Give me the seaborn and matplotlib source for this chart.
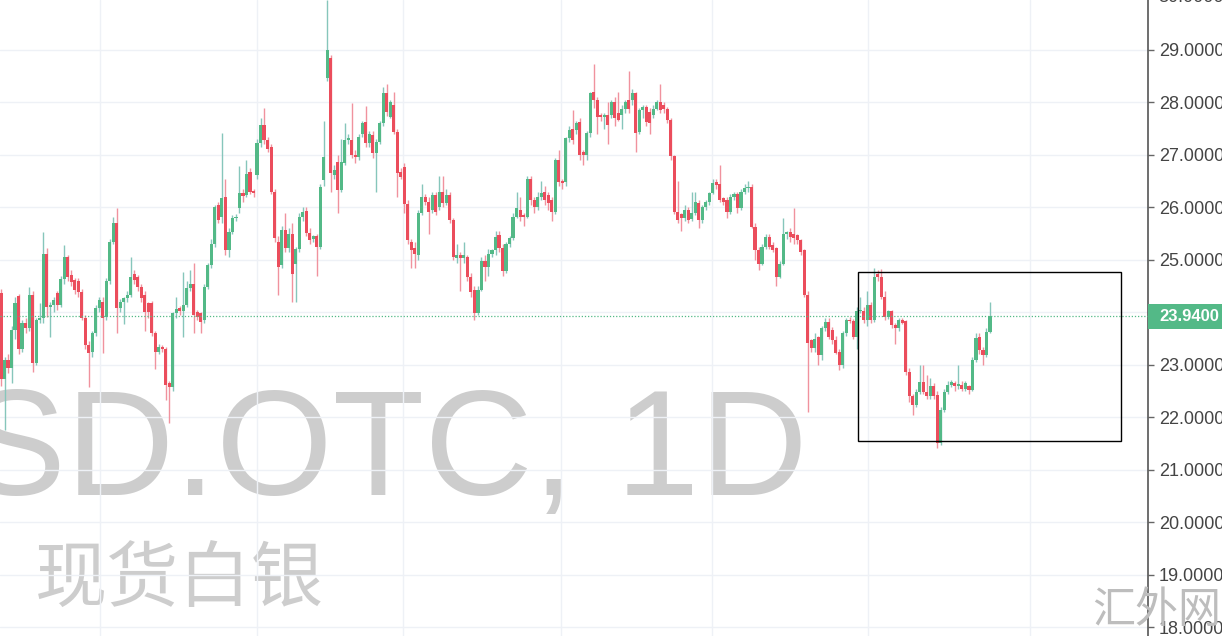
import matplotlib
matplotlib.use("Agg")
import matplotlib.pyplot as plt
import seaborn as sns
import numpy as np
import pandas as pd
from matplotlib.patches import Rectangle

# ---------------- data ----------------
opens = [
    # A
    24.36,22.74,23.09,22.95,23.66,24.31,23.31,23.79,23.70,24.33, 23.03,23.85,23.89,25.12,24.11,24.14,24.36,24.14,24.63,25.06,
    24.71,24.62,24.60,24.39,23.90,23.38,23.25,23.60,24.08,24.20, 23.92,24.60,25.35,25.71,24.08,24.20,24.27,24.33,24.74,24.68,
    24.49,24.33,24.17,24.17,23.60,23.25,23.35,23.31,22.65,
    # B
    22.58,23.98,24.08,24.02,24.14,24.46,24.55,24.00,23.98,23.85, 24.49,24.90,25.31,26.04,25.82,26.20,25.19,25.54,25.79,25.98,
    26.27,26.23,26.68,26.31,26.61,27.22,27.57,27.28,27.15,26.30, 25.35,24.90,25.57,25.22,25.50,24.93,25.20,25.82,25.94,25.51,
    25.40,25.45,25.25,26.52,28.46,
    # C
    28.84,26.62,26.87,26.33,26.84,27.28,27.28,27.00,26.96,27.40, 27.63,27.22,27.38,27.03,27.25,27.60,28.17,27.72,27.95,27.44,
    26.68,26.77,26.07,25.35,25.22,25.09,25.89,26.20,26.11, 25.95,26.24,26.00,26.30,26.08,26.24,25.76,25.03,25.09,25.03,
    25.06,24.68,24.43,23.98,24.43,24.97,24.87,25.12,25.18,
    # D
    25.47,25.22,24.78,25.31,25.41,25.82,25.95,25.86,25.82, 26.55,26.14,26.00,26.20,26.30,26.24,26.14,25.92,26.90,26.49,
    26.49,27.32,27.50,27.47,27.63,27.05,26.99,27.41,28.20,28.05, 27.76,27.73,27.76,27.76,28.01,27.79,27.76,27.88,28.05,28.05,
    28.17,27.44,27.85,27.91,27.82,27.76,27.88,28.01,
    # E
    27.95,27.88,27.66,26.97,25.92,25.88,25.80,25.95,25.78,25.90, 26.08,25.76,26.00,26.10,26.27,26.48,26.44,26.17,26.14,
    25.92,26.20,26.26,25.98,26.30,26.36,26.39,25.63,25.19,24.93, 25.25,25.44,25.28,25.22,24.68,24.93,25.50,25.53,25.50,25.47,
    25.38,25.18,24.33,23.47,23.32,23.53,23.19,23.70,23.82,
    # F
    23.67,23.48,23.25,23.00,23.60,23.86,23.83,23.54,24.02,24.03, 23.86,24.14,23.86,24.74,24.68,24.30,23.92,24.02,23.76,23.70,
    23.86,23.83,22.87,22.40,22.24,22.49,22.68,22.49,22.40,22.59, 22.43,21.51,22.14,22.49,22.62,22.65,22.59,22.62,22.55,22.59,
    22.52,23.09,23.54,23.28,23.19,23.63]
highs = [
    # A
    24.45,23.15,23.20,23.75,24.30,24.35,23.85,23.90,24.49,24.40, 23.90,24.17,25.54,25.22,24.20,24.30,24.40,24.70,25.28,25.10,
    24.80,24.65,24.65,24.45,23.95,23.45,23.65,24.15,24.30,24.30, 24.65,25.40,25.82,25.98,24.25,24.30,24.40,25.06,24.80,24.72,
    24.55,24.40,24.20,24.22,23.65,23.40,23.38,23.35,22.70,
    # B
    24.00,24.30,24.12,24.77,24.60,24.80,24.95,24.05,24.00,24.55, 24.95,25.40,26.05,26.10,27.41,26.55,25.60,25.85,25.88,26.78,
    26.35,26.90,26.75,26.35,27.30,27.70,27.90,27.35,27.20,26.35, 25.45,25.65,25.90,25.60,25.70,25.25,25.90,26.00,26.00,25.60,
    25.48,25.50,26.45,27.65,29.95,
    # C
    28.90,26.80,27.00,27.30,27.60,27.40,27.98,27.10,27.40,27.65, 27.93,27.45,27.45,27.30,27.65,28.30,28.35,28.05,28.20,27.50,
    26.75,26.85,26.15,25.40,25.35,25.95,26.45,26.25,26.20, 26.30,26.30,26.60,26.60,26.35,26.30,25.80,25.30,25.15,25.35,
    25.10,24.75,24.50,24.50,25.05,25.10,25.20,25.20,25.55,
    # D
    25.55,25.30,25.35,25.45,25.90,26.30,26.20,25.90,26.60, 26.60,26.20,26.30,26.50,26.40,26.30,26.20,26.95,27.10,26.55,
    27.35,27.55,27.85,27.65,27.70,27.10,27.45,28.20,28.74,28.10, 27.80,27.80,28.00,28.05,28.10,28.20,27.95,28.05,28.60,28.25,
    28.20,27.90,27.95,27.95,27.90,27.95,28.05,28.35,
    # E
    28.00,27.92,27.70,27.00,26.50,25.90,26.05,26.00,26.30,26.30, 26.15,26.05,26.15,26.30,26.55,26.55,26.80,26.20,26.20,
    26.25,26.30,26.30,26.35,26.45,26.50,26.45,25.70,25.25,25.30, 25.50,25.50,25.35,25.25,24.98,25.80,25.55,25.60,25.98,25.50,
    25.40,25.20,24.40,23.50,23.60,23.55,23.75,23.90,23.90,
    # F
    23.72,23.55,23.30,23.65,23.90,23.92,23.88,24.10,24.30,24.10, 24.40,24.20,24.85,24.80,24.82,24.40,24.05,24.05,23.80,23.90,
    23.90,23.85,22.95,22.45,22.55,23.00,23.00,22.80,22.75,22.65, 22.50,22.20,22.55,22.70,22.72,22.70,23.00,22.70,22.70,22.62,
    23.15,23.60,23.60,23.35,23.70,24.20]
lows = [
    # A
    22.60,21.76,22.85,22.65,23.50,23.20,23.25,23.60,23.65,22.87, 23.00,23.80,23.80,23.92,23.54,24.00,24.05,24.10,24.55,24.60,
    24.50,24.35,24.30,23.85,23.30,22.58,23.15,23.55,24.00,23.22, 23.85,24.55,25.30,23.60,24.00,23.78,24.20,24.30,24.55,24.40,
    24.20,23.65,23.90,23.55,22.93,23.20,23.25,22.33,21.89,
    # B
    22.50,23.90,23.95,23.54,24.10,24.40,23.60,23.85,23.60,23.80, 24.45,24.85,25.25,25.70,25.70,25.10,25.05,25.50,25.75,25.90,
    26.10,26.20,26.25,26.20,26.55,27.15,27.20,27.05,26.25,25.35, 24.33,24.85,25.15,25.15,24.20,24.20,25.15,25.75,25.45,25.30,
    25.35,24.70,25.20,26.40,28.40,
    # C
    26.30,26.55,25.90,26.30,26.80,27.20,26.95,26.85,26.90,27.35, 27.15,27.15,26.95,26.30,27.20,27.55,27.75,27.70,27.40,26.20,
    26.55,25.90,25.30,24.85,24.85,25.00,25.85,26.05,25.50, 25.90,25.85,25.95,26.00,26.05,25.70,25.00,24.95,24.40,24.95,
    24.60,24.30,23.85,23.95,24.40,24.60,24.70,25.05,25.10,
    # D
    25.15,24.70,24.75,25.25,25.38,25.80,25.75,25.65,25.80, 26.05,25.90,25.95,26.15,26.05,25.95,25.75,25.88,26.40,26.35,
    26.40,27.25,27.20,27.40,26.90,26.80,26.90,27.35,27.90,27.40, 27.65,27.50,27.20,27.70,27.55,27.65,27.50,27.80,27.80,27.95,
    27.05,27.40,27.70,27.55,27.40,27.70,27.85,27.80,
    # E
    27.80,27.60,26.90,25.88,25.70,25.55,25.75,25.70,25.75,25.85, 25.60,25.70,25.95,26.05,26.25,26.35,26.10,26.05,25.80,
    25.88,26.15,25.90,25.95,26.25,26.30,25.60,25.00,24.80,24.90, 25.20,25.20,25.15,24.50,24.65,24.90,25.40,25.35,25.30,25.30,
    25.10,24.30,22.10,23.25,23.25,23.00,23.10,23.65,23.50,
    # F
    23.40,23.20,22.90,22.95,23.55,23.80,23.50,23.30,23.98,23.80, 23.75,23.80,23.82,24.60,24.25,23.85,23.88,23.70,23.40,23.65,
    23.78,22.80,22.30,22.05,22.20,22.45,22.45,22.35,22.35,22.35, 21.42,21.48,22.10,22.45,22.58,22.50,22.55,22.50,22.50,22.45,
    22.50,23.05,23.20,23.00,23.15,23.60]
closes = [
    # A
    22.74,23.09,22.95,23.66,24.17,23.31,23.79,23.70,24.33,23.03, 23.85,23.89,25.12,24.11,24.14,24.24,24.14,24.63,25.06,24.68,
    24.58,24.43,24.39,23.90,23.38,23.22,23.60,24.08,24.24,23.90, 24.60,25.35,25.71,24.08,24.20,24.27,24.33,24.68,24.62,24.49,
    24.27,24.01,24.01,23.60,23.25,23.35,23.30,22.62,22.58,
    # B
    23.98,24.06,24.02,24.14,24.46,24.55,23.95,23.92,23.82,24.49, 24.90,25.31,26.01,25.76,26.17,25.19,25.54,25.79,25.81,26.27,
    26.21,26.64,26.30,26.27,27.22,27.57,27.28,27.12,26.30,25.41, 24.87,25.57,25.22,25.50,24.74,25.20,25.82,25.92,25.51,25.38,
    25.45,25.25,26.39,26.96,29.00,
    # C
    26.65,26.71,26.33,26.87,27.28,27.33,27.00,26.96,27.35,27.60, 27.22,27.40,27.03,27.25,27.60,28.17,27.82,28.00,27.44,26.65,
    26.58,26.07,25.38,25.19,25.12,25.89,26.20,26.11,25.92, 26.24,25.92,26.30,26.08,26.24,25.76,25.06,25.09,25.03,25.09,
    24.68,24.39,23.98,24.43,24.97,24.87,25.12,25.18,25.44,
    # D
    25.22,24.78,25.31,25.41,25.82,25.98,25.82,25.82,26.55, 26.14,26.00,26.20,26.27,26.14,26.08,25.92,26.90,26.49,26.47,
    27.32,27.47,27.28,27.60,26.99,26.99,27.41,28.17,28.05,27.73, 27.73,27.76,27.57,28.01,27.70,27.66,27.88,28.01,27.88,28.17,
    27.41,27.85,27.91,27.63,27.60,27.88,28.01,27.85,
    # E
    27.88,27.66,26.97,25.92,25.76,25.80,25.95,25.76,25.90,26.10, 25.76,26.00,26.10,26.27,26.46,26.42,26.14,26.11,25.92,
    26.20,26.26,25.98,26.30,26.36,26.39,25.63,25.19,24.93,25.25, 25.44,25.25,25.19,24.68,24.93,25.50,25.53,25.44,25.41,25.38,
    25.15,24.33,23.41,23.32,23.50,23.19,23.70,23.82,23.54,
    # F
    23.48,23.22,23.00,23.60,23.86,23.83,23.54,24.02,24.05,23.86, 24.14,23.86,24.68,24.68,24.30,23.92,24.02,23.76,23.70,23.86,
    23.80,22.87,22.40,22.24,22.49,22.68,22.49,22.40,22.59,22.40, 21.51,22.14,22.49,22.62,22.68,22.59,22.64,22.55,22.65,22.52,
    23.09,23.51,23.28,23.19,23.63,23.94]

last_price = 23.94
price_ticks = list(range(18, 31))
month_grid = [28.2, 73.0, 114.6, 159.7, 202.7, 247.2, 293.4]   # vertical grid (bar index units)
box_x = [244.4, 319.4]       # drawn rectangle, bar index units
box_y = [21.55, 24.77]       # drawn rectangle, price units
watermark = "SD.OTC, 1D"
watermark_sub = "现货白银"
site_mark = "汇外网"

n = min(len(opens), len(highs), len(lows), len(closes))
df = pd.DataFrame({"open": opens[:n], "high": highs[:n], "low": lows[:n], "close": closes[:n]})
df["idx"] = np.arange(n)

# ---------------- styling ----------------
sns.set_theme(style="white")
plt.rcParams["font.family"] = ["Liberation Sans", "Noto Sans CJK SC", "DejaVu Sans"]

UP = "#53b987"
DOWN = "#eb4d5c"
W, H = 1222, 636

fig = plt.figure(figsize=(W / 100, H / 100), dpi=100)
ax = fig.add_axes([0, 0, 1148 / W, 1])
ax.set_facecolor("white")

pitch = 989 / (n - 1)
ax.set_xlim(-1 / pitch, 1147 / pitch)
ax.set_ylim(17.836, 29.95)

# grid
for v in price_ticks:
    ax.axhline(v, color="#eef1f6", lw=1.0, zorder=1)
for g in month_grid:
    ax.axvline(g, color="#eef1f6", lw=1.0, zorder=1)

# watermark texts (behind candles)
ax.text(808 / 1148, 1 - 495 / H, watermark, transform=ax.transAxes, ha="right",
        va="baseline", fontsize=108, color="#cdcdcd", family="Liberation Sans",
        zorder=0.5, clip_on=True)
ax.text(35 / 1148, 1 - 581 / H, watermark_sub, transform=ax.transAxes, ha="left",
        va="center", fontsize=52, color="#cdcdcd", family=["Noto Sans CJK SC"],
        zorder=0.5)

# candles
up = df["close"] >= df["open"]
colors = np.where(up, UP, DOWN)
wick_colors = np.where(up, "#86c6bb", "#f0929e")
ax.vlines(df["idx"], df["low"], df["high"], colors=wick_colors, lw=1.0, zorder=2)
body_bottom = np.minimum(df["open"], df["close"])
body_h = np.maximum(np.abs(df["close"] - df["open"]), 0.03)
ax.bar(df["idx"], body_h, bottom=body_bottom, width=0.88, color=colors,
       linewidth=0, zorder=3)

# last price dotted line
ax.axhline(last_price, color=UP, lw=0.9, ls=(0, (1, 1.5)), zorder=4)

# rectangle annotation
ax.add_patch(Rectangle((box_x[0], box_y[0]), box_x[1] - box_x[0], box_y[1] - box_y[0],
                       fill=False, edgecolor="black", lw=1.0, zorder=5))

# axes
for s in ["top", "left", "bottom"]:
    ax.spines[s].set_visible(False)
ax.spines["right"].set_color("#555555")
ax.spines["right"].set_linewidth(1.2)
ax.set_xticks([])
ax.yaxis.tick_right()
ax.set_yticks(price_ticks[:-1])
ax.set_yticklabels([f"{v:.4f}" for v in price_ticks[:-1]])
ax.tick_params(axis="y", right=True, length=4, width=1, color="#666666",
               labelsize=13, labelcolor="#444444", pad=4)
# the 30.0000 label cut by the top edge
fig.text(1158 / W, 1 - (-2) / H, f"{price_ticks[-1]:.4f}", ha="left", va="center",
         fontsize=13, color="#444444")

# last price label box
fig.patches.append(Rectangle((1148 / W, 1 - 329 / H), 74 / W, 25 / H,
                             transform=fig.transFigure, facecolor=UP,
                             edgecolor="none", zorder=6))
fig.text(1159 / W, 1 - 316.5 / H, f"{last_price:.4f}", ha="left", va="center",
         fontsize=12, color="white", weight="bold", zorder=7)

# site mark
fig.text(1157 / W, 1 - 611 / H, site_mark, ha="center", va="center", fontsize=31,
         color="#bdbdbd", family=["Noto Sans CJK SC"], zorder=8)

fig.savefig("out.png", dpi=100)
